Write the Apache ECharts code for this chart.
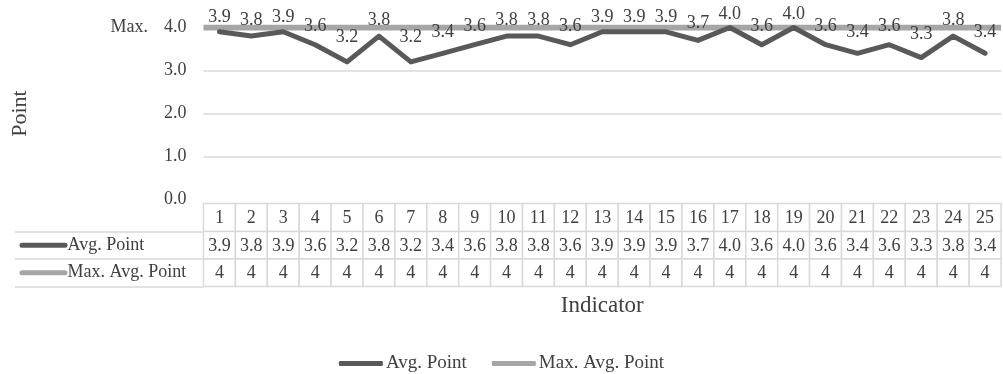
<!DOCTYPE html>
<html>
<head>
<meta charset="utf-8">
<script src="https://cdn.jsdelivr.net/npm/echarts@6/dist/echarts.min.js"></script>
<style>
html,body{margin:0;padding:0;background:#fff;}
#chart{width:1003px;height:374px;}
</style>
</head>
<body>
<div id="chart"></div>
<script>
const categories = ['1','2','3','4','5','6','7','8','9','10','11','12','13','14','15','16','17','18','19','20','21','22','23','24','25'];
const avgPoint = [3.9,3.8,3.9,3.6,3.2,3.8,3.2,3.4,3.6,3.8,3.8,3.6,3.9,3.9,3.9,3.7,4.0,3.6,4.0,3.6,3.4,3.6,3.3,3.8,3.4];
const maxAvgPoint = [4,4,4,4,4,4,4,4,4,4,4,4,4,4,4,4,4,4,4,4,4,4,4,4,4];
const seriesNames = ['Avg. Point', 'Max. Avg. Point'];

const FONT = '"Liberation Serif", "Times New Roman", serif';
const TXT = '#404040';
const DARK = '#595959';
const LIGHT = '#a6a6a6';
const BORDER = '#d9d9d9';
const FS = 18;

// table cell data
const headerCells = categories.map((c, i) => [i, 0]);
const headerTexts = categories.slice();
const bodyCells = [];
const bodyTexts = [];
avgPoint.forEach((v, i) => { bodyCells.push([i, 0]); bodyTexts.push(v.toFixed(1)); });
maxAvgPoint.forEach((v, i) => { bodyCells.push([i, 1]); bodyTexts.push(String(v)); });

function cellRenderer(texts) {
  return function (params, api) {
    const c = api.coord([api.value(0), api.value(1)]);
    const s = api.size([1, 1]);
    return {
      type: 'group',
      children: [
        { type: 'rect', shape: { x: c[0] - s[0] / 2, y: c[1] - s[1] / 2, width: s[0], height: s[1] },
          style: { fill: '#fff', stroke: BORDER, lineWidth: 1.5 } },
        { type: 'text', x: c[0], y: c[1] + 1,
          style: { text: texts[params.dataIndex], fill: TXT, font: FS + 'px ' + FONT, align: 'center', verticalAlign: 'middle' } }
      ]
    };
  };
}

const chart = echarts.init(document.getElementById('chart'), null, { renderer: 'canvas' });
const L = 203.5, R = 2;
chart.setOption({
  animation: false,
  backgroundColor: '#fff',
  textStyle: { fontFamily: FONT, color: TXT },
  grid: [
    { left: L, right: R, top: 27.5, height: 172 },
    { left: L, right: R, top: 203.5, height: 28 },
    { left: L, right: R, top: 231.5, height: 55 }
  ],
  legend: {
    data: seriesNames,
    top: 354,
    left: 'center',
    padding: 0,
    icon: 'roundRect',
    itemWidth: 44,
    itemHeight: 5,
    itemGap: 25,
    textStyle: { fontFamily: FONT, fontSize: 19, color: TXT, padding: [0, 0, 0, -2] }
  },
  xAxis: [
    { type: 'category', gridIndex: 0, data: categories, boundaryGap: true, show: false },
    { type: 'category', gridIndex: 0, data: categories, boundaryGap: false, show: false },
    { type: 'category', gridIndex: 1, data: categories, boundaryGap: true, show: false },
    { type: 'category', gridIndex: 2, data: categories, boundaryGap: true,
      axisLine: { show: false }, axisTick: { show: false }, axisLabel: { show: false }, splitLine: { show: false },
      name: 'Indicator', nameLocation: 'middle', nameGap: 8,
      nameTextStyle: { fontFamily: FONT, fontSize: 23, color: TXT } }
  ],
  yAxis: [
    { type: 'value', gridIndex: 0, min: 0, max: 4, interval: 1,
      axisLine: { show: false }, axisTick: { show: false },
      splitLine: { show: true, showMinLine: false, lineStyle: { color: BORDER, width: 1.5 } },
      axisLabel: {
        margin: 17,
        formatter: function (v) {
          return v === 4 ? '{m|Max.}{v|' + v.toFixed(1) + '}' : '{v|' + v.toFixed(1) + '}';
        },
        rich: {
          m: { fontFamily: FONT, fontSize: FS, color: TXT, padding: [0, 16, 0, 0] },
          v: { fontFamily: FONT, fontSize: FS, color: TXT }
        }
      },
      name: 'Point', nameLocation: 'middle', nameGap: 172,
      nameTextStyle: { fontFamily: FONT, fontSize: 22, color: TXT }
    },
    { type: 'category', gridIndex: 1, data: [''], show: false },
    { type: 'category', gridIndex: 2, data: seriesNames, inverse: true,
      axisLine: { show: false },
      axisTick: { show: true, length: 188.5, lineStyle: { color: BORDER, width: 1.5 } },
      axisLabel: {
        align: 'left', margin: 184,
        formatter: function (name, idx) {
          return '{' + (idx === 0 ? 'ka' : 'kb') + '|}{t|' + name + '}';
        },
        rich: {
          ka: { width: 48, height: 5, backgroundColor: DARK, borderRadius: 3 },
          kb: { width: 48, height: 5, backgroundColor: LIGHT, borderRadius: 3 },
          t: { fontFamily: FONT, fontSize: FS, color: TXT }
        }
      }
    },
    { type: 'category', gridIndex: 2, data: seriesNames, inverse: true, offset: 188.5,
      axisLine: { show: true, lineStyle: { color: BORDER, width: 1.5 } },
      axisTick: { show: false }, axisLabel: { show: false } }
  ],
  series: [
    { name: 'Max. Avg. Point', type: 'line', xAxisIndex: 1, yAxisIndex: 0, data: maxAvgPoint,
      symbol: 'none', lineStyle: { color: LIGHT, width: 6 }, itemStyle: { color: LIGHT }, z: 2 },
    { name: 'Avg. Point', type: 'line', xAxisIndex: 0, yAxisIndex: 0, data: avgPoint,
      symbol: 'circle', symbolSize: 1, showSymbol: true,
      lineStyle: { color: DARK, width: 5, join: 'round', cap: 'round' }, itemStyle: { color: DARK }, z: 3,
      labelLayout: function (p) {
        // Excel-like label placement: labels compressed towards the max line
        const py = p.rect.y + p.rect.height / 2;
        const cur = p.labelRect.y + p.labelRect.height / 2;
        const want = 0.69 * py - 5;
        return { dy: want - cur, hideOverlap: false };
      },
      label: { show: true, position: 'top', distance: 9,
        formatter: function (p) { return p.value.toFixed(1); },
        fontFamily: FONT, fontSize: FS, color: TXT } },
    { name: 'header', type: 'custom', xAxisIndex: 2, yAxisIndex: 1, data: headerCells,
      renderItem: cellRenderer(headerTexts), silent: true },
    { name: 'body', type: 'custom', xAxisIndex: 3, yAxisIndex: 2, data: bodyCells,
      renderItem: cellRenderer(bodyTexts), silent: true }
  ]
});
</script>
</body>
</html>
